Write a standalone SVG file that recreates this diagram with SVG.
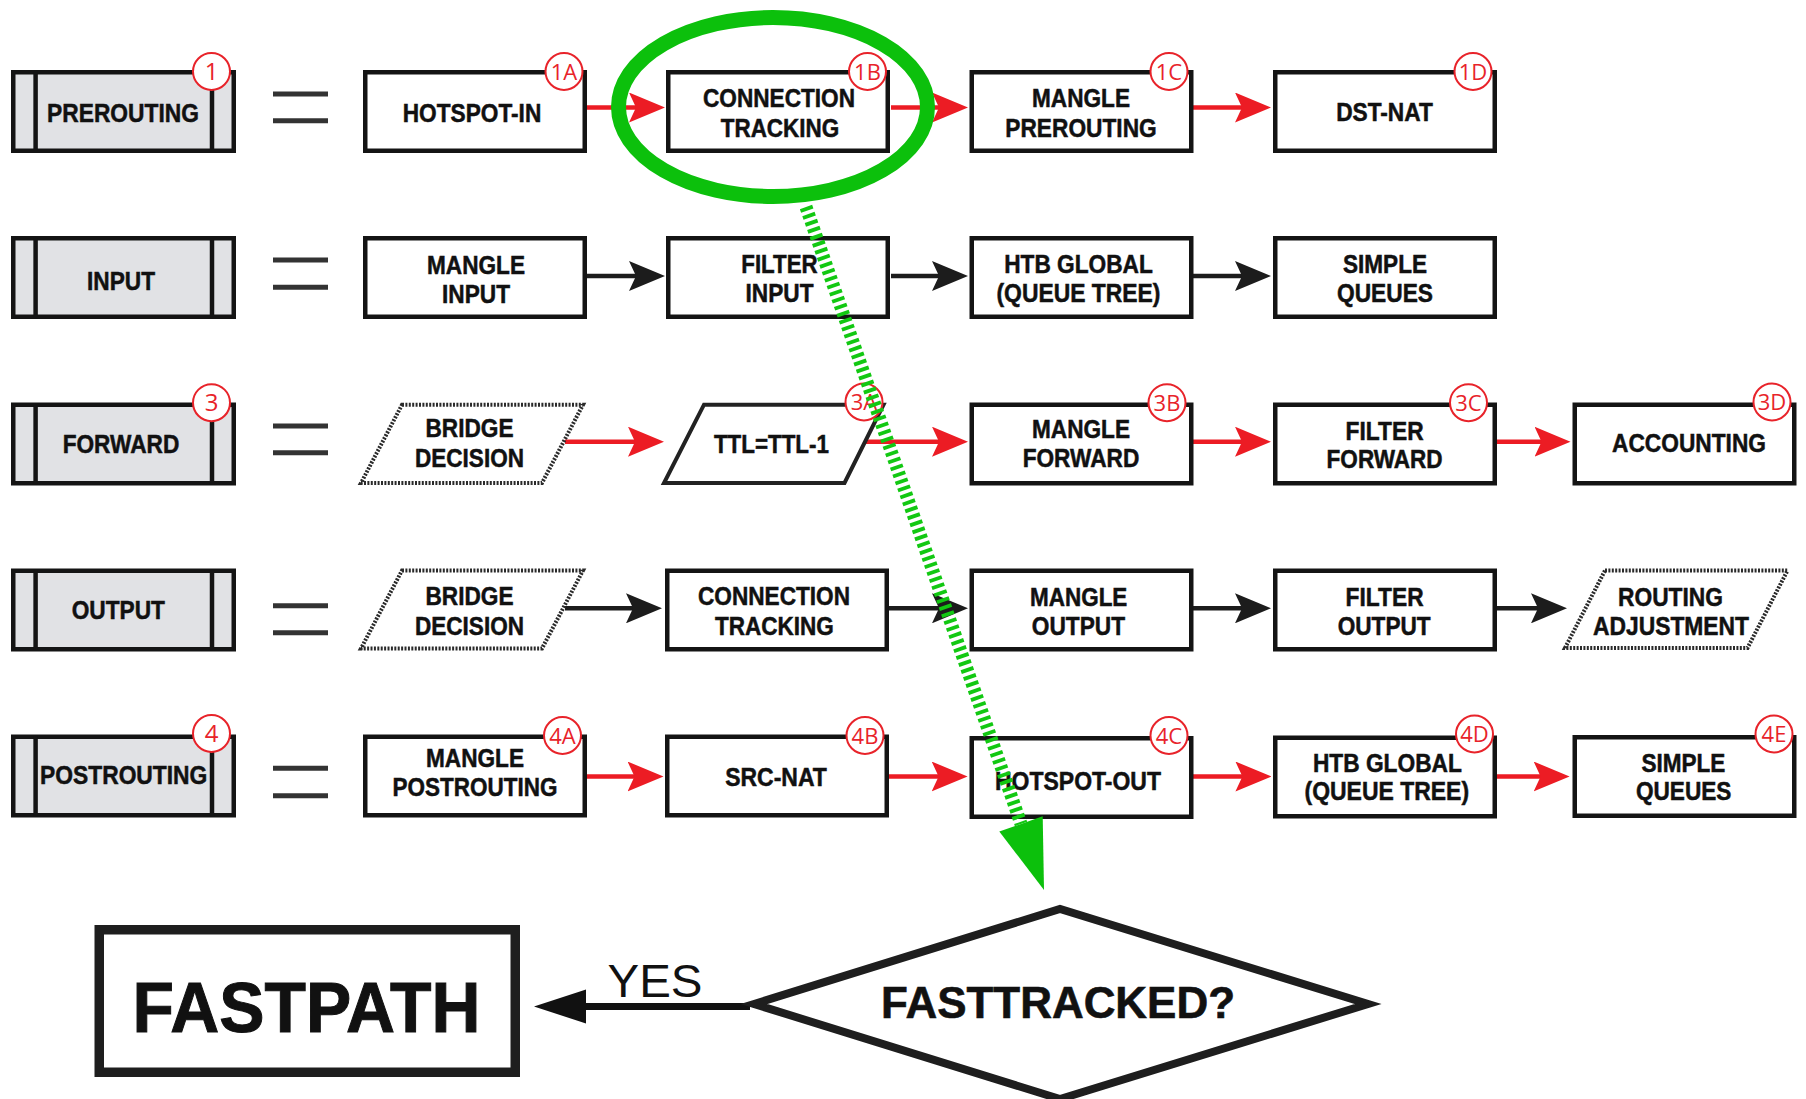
<svg xmlns="http://www.w3.org/2000/svg" width="1806" height="1099" viewBox="0 0 1806 1099">
<defs>
<style>
.box{fill:#fff;stroke:#141414;stroke-width:4.5}
.lbl{fill:#e1e2e5;stroke:#141414;stroke-width:4.5}
.bar{stroke:#141414;stroke-width:4.5}
.par{fill:#fff;stroke:#222;stroke-width:4}
.dot{fill:#fff;stroke:#2a2a2a;stroke-width:4;stroke-dasharray:2 1.4}
.t{font-family:"Liberation Sans",Arial,Helvetica,sans-serif;font-weight:bold;font-size:25.5px;fill:#111;stroke:#111;stroke-width:0.5;text-anchor:middle}
.bd circle{fill:#fff;stroke:#e8232a;stroke-width:2}
.bd text{font-family:"Open Sans","Noto Sans",sans-serif;font-size:22px;fill:#e8232a;text-anchor:middle}
.bd text.s{font-size:24px}
.eq{stroke:#333;stroke-width:5}
.red{stroke:#ec1c24;stroke-width:4.5;fill:none;marker-end:url(#ar)}
.blk{stroke:#1c1c1c;stroke-width:4.5;fill:none;marker-end:url(#ab)}
</style>
<marker id="ar" viewBox="0 0 36 30" refX="24" refY="15" markerWidth="36" markerHeight="30" markerUnits="userSpaceOnUse" orient="auto">
<path d="M0,0 L36,15 L0,30 L7,15 Z" fill="#ec1c24"/>
</marker>
<marker id="ab" viewBox="0 0 36 30" refX="24" refY="15" markerWidth="36" markerHeight="30" markerUnits="userSpaceOnUse" orient="auto">
<path d="M0,0 L36,15 L0,30 L7,15 Z" fill="#1c1c1c"/>
</marker>
</defs>
<rect width="1806" height="1099" fill="#fff"/>

<g id="connectors">
<line class="red" x1="587" y1="107.5" x2="653" y2="107.5"/>
<line class="red" x1="891" y1="107.5" x2="956" y2="107.5"/>
<line class="red" x1="1193" y1="107.5" x2="1259" y2="107.5"/>
<line class="blk" x1="587" y1="276" x2="653" y2="276"/>
<line class="blk" x1="891" y1="276" x2="956" y2="276"/>
<line class="blk" x1="1193" y1="276" x2="1259" y2="276"/>
<line class="red" x1="565" y1="441.7" x2="652" y2="441.7"/>
<line class="red" x1="866" y1="441.7" x2="956" y2="441.7"/>
<line class="red" x1="1193" y1="441.7" x2="1259" y2="441.7"/>
<line class="red" x1="1497" y1="441.7" x2="1558.5" y2="441.7"/>
<line class="blk" x1="565" y1="608.3" x2="650" y2="608.3"/>
<line class="blk" x1="889" y1="608.3" x2="956" y2="608.3"/>
<line class="blk" x1="1193" y1="608.3" x2="1259" y2="608.3"/>
<line class="blk" x1="1497" y1="608.3" x2="1555" y2="608.3"/>
<line class="red" x1="587" y1="776.5" x2="651.5" y2="776.5"/>
<line class="red" x1="889" y1="776.5" x2="955.6" y2="776.5"/>
<line class="red" x1="1193" y1="776.5" x2="1259.4" y2="776.5"/>
<line class="red" x1="1497" y1="776.5" x2="1557.6" y2="776.5"/>
<line x1="750" y1="1006.5" x2="580" y2="1006.5" stroke="#111" stroke-width="7"/>
<polygon points="534,1006.5 586,989.5 586,1023.5" fill="#111"/>
</g>

<g id="equals">
<g class="eq">
<line x1="273" y1="94" x2="328" y2="94"/><line x1="273" y1="120.7" x2="328" y2="120.7"/>
<line x1="273" y1="260" x2="328" y2="260"/><line x1="273" y1="287.3" x2="328" y2="287.3"/>
<line x1="273" y1="426" x2="328" y2="426"/><line x1="273" y1="452.7" x2="328" y2="452.7"/>
<line x1="273" y1="605.7" x2="328" y2="605.7"/><line x1="273" y1="632.7" x2="328" y2="632.7"/>
<line x1="273" y1="768.3" x2="328" y2="768.3"/><line x1="273" y1="795.7" x2="328" y2="795.7"/>
</g>
</g>

<!-- Row 1 -->
<g id="prerouting">
<rect class="lbl" x="13.25" y="72.25" width="220.5" height="78.5"/>
<line class="bar" x1="35.6" y1="72" x2="35.6" y2="151"/><line class="bar" x1="212" y1="72" x2="212" y2="151"/>
<text class="t" x="123" y="121.5" textLength="152" lengthAdjust="spacingAndGlyphs">PREROUTING</text>
<g class="bd"><circle cx="211.5" cy="71.5" r="18.5"/><text class="s" x="211.5" y="80">1</text></g>
</g>
<g id="hotspot-in">
<rect class="box" x="365.25" y="72.25" width="219.5" height="78.5"/>
<text class="t" x="472" y="121.5" textLength="138.5" lengthAdjust="spacingAndGlyphs">HOTSPOT-IN</text>
<g class="bd"><circle cx="564" cy="71.5" r="18.5"/><text x="564" y="79.5">1A</text></g>
</g>
<g id="conntrack-pre">
<rect class="box" x="668.25" y="72.25" width="219.5" height="78.5"/>
<text class="t" x="779" y="107.3" textLength="152" lengthAdjust="spacingAndGlyphs">CONNECTION</text>
<text class="t" x="780" y="136.7" textLength="118.6" lengthAdjust="spacingAndGlyphs">TRACKING</text>
<g class="bd"><circle cx="867.5" cy="71.5" r="18.5"/><text x="867.5" y="79.5">1B</text></g>
</g>
<g id="mangle-prerouting">
<rect class="box" x="971.75" y="72.25" width="219.5" height="78.5"/>
<text class="t" x="1081" y="107.3" textLength="98" lengthAdjust="spacingAndGlyphs">MANGLE</text>
<text class="t" x="1081" y="136.7" textLength="151.4" lengthAdjust="spacingAndGlyphs">PREROUTING</text>
<g class="bd"><circle cx="1169" cy="71.5" r="18.5"/><text x="1169" y="79.5">1C</text></g>
</g>
<g id="dst-nat">
<rect class="box" x="1275.25" y="72.25" width="219.5" height="78.5"/>
<text class="t" x="1384.5" y="120.5" textLength="96.7" lengthAdjust="spacingAndGlyphs">DST-NAT</text>
<g class="bd"><circle cx="1473" cy="71.5" r="18.5"/><text x="1473" y="79.5">1D</text></g>
</g>

<!-- Row 2 -->
<g id="input">
<rect class="lbl" x="13.25" y="238.25" width="220.5" height="78.5"/>
<line class="bar" x1="35.6" y1="238" x2="35.6" y2="317"/><line class="bar" x1="212" y1="238" x2="212" y2="317"/>
<text class="t" x="121" y="290" textLength="68" lengthAdjust="spacingAndGlyphs">INPUT</text>
</g>
<g id="mangle-input">
<rect class="box" x="365.25" y="238.25" width="219.5" height="78.5"/>
<text class="t" x="476" y="273.5" textLength="98" lengthAdjust="spacingAndGlyphs">MANGLE</text>
<text class="t" x="476" y="303" textLength="68" lengthAdjust="spacingAndGlyphs">INPUT</text>
</g>
<g id="filter-input">
<rect class="box" x="668.25" y="238.25" width="219.5" height="78.5"/>
<text class="t" x="779.5" y="272.5" textLength="76.5" lengthAdjust="spacingAndGlyphs">FILTER</text>
<text class="t" x="779.5" y="302" textLength="68" lengthAdjust="spacingAndGlyphs">INPUT</text>
</g>
<g id="htb-global-input">
<rect class="box" x="971.75" y="238.25" width="219.5" height="78.5"/>
<text class="t" x="1078.5" y="272.5" textLength="148.7" lengthAdjust="spacingAndGlyphs">HTB GLOBAL</text>
<text class="t" x="1078.5" y="302" textLength="164" lengthAdjust="spacingAndGlyphs">(QUEUE TREE)</text>
</g>
<g id="simple-queues-input">
<rect class="box" x="1275.25" y="238.25" width="219.5" height="78.5"/>
<text class="t" x="1385" y="272.5" textLength="84" lengthAdjust="spacingAndGlyphs">SIMPLE</text>
<text class="t" x="1385" y="302" textLength="96" lengthAdjust="spacingAndGlyphs">QUEUES</text>
</g>

<!-- Row 3 -->
<g id="forward">
<rect class="lbl" x="13.25" y="404.75" width="220.5" height="78.5"/>
<line class="bar" x1="35.6" y1="404.5" x2="35.6" y2="483.5"/><line class="bar" x1="212" y1="404.5" x2="212" y2="483.5"/>
<text class="t" x="121" y="453.3" textLength="116.7" lengthAdjust="spacingAndGlyphs">FORWARD</text>
<g class="bd"><circle cx="211.5" cy="402.7" r="18.5"/><text class="s" x="211.5" y="411.2">3</text></g>
</g>
<g id="bridge-forward">
<polygon class="dot" points="402,404.7 583,404.7 542,483 361,483"/>
<text class="t" x="469.5" y="437.3" textLength="88" lengthAdjust="spacingAndGlyphs">BRIDGE</text>
<text class="t" x="469.5" y="466.7" textLength="109" lengthAdjust="spacingAndGlyphs">DECISION</text>
</g>
<g id="ttl">
<polygon class="par" points="704,404.7 883.5,404.7 844.5,483 664,483"/>
<text class="t" x="771.4" y="453.3" textLength="115" lengthAdjust="spacingAndGlyphs">TTL=TTL-1</text>
<g class="bd"><circle cx="864" cy="402" r="18.5"/><text x="864" y="410">3A</text></g>
</g>
<g id="mangle-forward">
<rect class="box" x="971.75" y="404.75" width="219.5" height="78.5"/>
<text class="t" x="1081" y="438.3" textLength="98" lengthAdjust="spacingAndGlyphs">MANGLE</text>
<text class="t" x="1081" y="466.7" textLength="116.7" lengthAdjust="spacingAndGlyphs">FORWARD</text>
<g class="bd"><circle cx="1167" cy="402.7" r="18.5"/><text x="1167" y="410.7">3B</text></g>
</g>
<g id="filter-forward">
<rect class="box" x="1275.25" y="404.75" width="219.5" height="78.5"/>
<text class="t" x="1384.6" y="440" textLength="78" lengthAdjust="spacingAndGlyphs">FILTER</text>
<text class="t" x="1384.6" y="468.3" textLength="116" lengthAdjust="spacingAndGlyphs">FORWARD</text>
<g class="bd"><circle cx="1468.5" cy="402.7" r="18.5"/><text x="1468.5" y="410.7">3C</text></g>
</g>
<g id="accounting">
<rect class="box" x="1574.75" y="404.75" width="219.5" height="78.5"/>
<text class="t" x="1689" y="451.7" textLength="154" lengthAdjust="spacingAndGlyphs">ACCOUNTING</text>
<g class="bd"><circle cx="1772" cy="402" r="18.5"/><text x="1772" y="410">3D</text></g>
</g>

<!-- Row 4 -->
<g id="output">
<rect class="lbl" x="13.25" y="570.75" width="220.5" height="78.5"/>
<line class="bar" x1="35.6" y1="570.5" x2="35.6" y2="649.5"/><line class="bar" x1="212" y1="570.5" x2="212" y2="649.5"/>
<text class="t" x="118.3" y="619" textLength="93.3" lengthAdjust="spacingAndGlyphs">OUTPUT</text>
</g>
<g id="bridge-output">
<polygon class="dot" points="402,570.5 583,570.5 542,648.5 361,648.5"/>
<text class="t" x="469.5" y="605" textLength="88" lengthAdjust="spacingAndGlyphs">BRIDGE</text>
<text class="t" x="469.5" y="635" textLength="109" lengthAdjust="spacingAndGlyphs">DECISION</text>
</g>
<g id="conntrack-output">
<rect class="box" x="667.25" y="570.75" width="219.5" height="78.5"/>
<text class="t" x="774" y="605" textLength="152" lengthAdjust="spacingAndGlyphs">CONNECTION</text>
<text class="t" x="774.4" y="635" textLength="119" lengthAdjust="spacingAndGlyphs">TRACKING</text>
</g>
<g id="mangle-output">
<rect class="box" x="971.75" y="570.75" width="219.5" height="78.5"/>
<text class="t" x="1078.7" y="605.7" textLength="97.3" lengthAdjust="spacingAndGlyphs">MANGLE</text>
<text class="t" x="1078.4" y="635" textLength="93.3" lengthAdjust="spacingAndGlyphs">OUTPUT</text>
</g>
<g id="filter-output">
<rect class="box" x="1275.25" y="570.75" width="219.5" height="78.5"/>
<text class="t" x="1384.6" y="606" textLength="78" lengthAdjust="spacingAndGlyphs">FILTER</text>
<text class="t" x="1384.2" y="635" textLength="93" lengthAdjust="spacingAndGlyphs">OUTPUT</text>
</g>
<g id="routing-adjustment">
<polygon class="dot" points="1605,570.5 1787.5,570.5 1747.5,648 1565,648"/>
<text class="t" x="1670.5" y="606" textLength="105" lengthAdjust="spacingAndGlyphs">ROUTING</text>
<text class="t" x="1671" y="635" textLength="156" lengthAdjust="spacingAndGlyphs">ADJUSTMENT</text>
</g>

<!-- Row 5 -->
<g id="postrouting">
<rect class="lbl" x="13.25" y="736.75" width="220.5" height="78.5"/>
<line class="bar" x1="35.6" y1="736.5" x2="35.6" y2="815.5"/><line class="bar" x1="212" y1="736.5" x2="212" y2="815.5"/>
<text class="t" x="123.7" y="784.3" textLength="167.3" lengthAdjust="spacingAndGlyphs">POSTROUTING</text>
<g class="bd"><circle cx="211.5" cy="733.5" r="18.5"/><text class="s" x="211.5" y="742">4</text></g>
</g>
<g id="mangle-postrouting">
<rect class="box" x="365.25" y="736.75" width="219.5" height="78.5"/>
<text class="t" x="475" y="767" textLength="98" lengthAdjust="spacingAndGlyphs">MANGLE</text>
<text class="t" x="475" y="796" textLength="165" lengthAdjust="spacingAndGlyphs">POSTROUTING</text>
<g class="bd"><circle cx="562.5" cy="735.5" r="18.5"/><text x="562.5" y="743.5">4A</text></g>
</g>
<g id="src-nat">
<rect class="box" x="667.25" y="736.75" width="219.5" height="78.5"/>
<text class="t" x="776" y="785.5" textLength="101.6" lengthAdjust="spacingAndGlyphs">SRC-NAT</text>
<g class="bd"><circle cx="865" cy="735.5" r="18.5"/><text x="865" y="743.5">4B</text></g>
</g>
<g id="hotspot-out">
<rect class="box" x="971.75" y="738.25" width="219.5" height="78.5"/>
<text class="t" x="1078" y="790" textLength="166" lengthAdjust="spacingAndGlyphs">HOTSPOT-OUT</text>
<g class="bd"><circle cx="1169" cy="735.5" r="18.5"/><text x="1169" y="743.5">4C</text></g>
</g>
<g id="htb-global-post">
<rect class="box" x="1275.25" y="737.75" width="219.5" height="78.5"/>
<text class="t" x="1387.4" y="771.7" textLength="149" lengthAdjust="spacingAndGlyphs">HTB GLOBAL</text>
<text class="t" x="1386.8" y="800" textLength="164.5" lengthAdjust="spacingAndGlyphs">(QUEUE TREE)</text>
<g class="bd"><circle cx="1474.5" cy="734" r="18.5"/><text x="1474.5" y="742">4D</text></g>
</g>
<g id="simple-queues-post">
<rect class="box" x="1574.75" y="737.25" width="219.5" height="78.5"/>
<text class="t" x="1683.4" y="771.7" textLength="84" lengthAdjust="spacingAndGlyphs">SIMPLE</text>
<text class="t" x="1683.7" y="800" textLength="95.5" lengthAdjust="spacingAndGlyphs">QUEUES</text>
<g class="bd"><circle cx="1774" cy="734" r="18.5"/><text x="1774" y="742">4E</text></g>
</g>

<!-- Bottom -->
<g id="fastpath">
<rect x="99.25" y="929.75" width="416" height="142.5" fill="#fff" stroke="#1e1e1e" stroke-width="9.5"/>
<text x="306.5" y="1031.7" textLength="348" lengthAdjust="spacingAndGlyphs" style="font-family:'Liberation Sans',Arial,sans-serif;font-weight:bold;font-size:70px;fill:#111;stroke:#111;stroke-width:1;text-anchor:middle">FASTPATH</text>
</g>
<g id="yes-label">
<text x="655" y="997" textLength="95" lengthAdjust="spacingAndGlyphs" style="font-family:'Liberation Sans',Arial,sans-serif;font-size:47px;fill:#111;text-anchor:middle">YES</text>
</g>
<g id="fasttracked">
<polygon points="754,1004 1060,909 1368,1004 1060,1099" fill="#fff" stroke="#1e1e1e" stroke-width="8"/>
<text x="1058" y="1018.3" textLength="354" lengthAdjust="spacingAndGlyphs" style="font-family:'Liberation Sans',Arial,sans-serif;font-weight:bold;font-size:44px;fill:#111;stroke:#111;stroke-width:0.6;text-anchor:middle">FASTTRACKED?</text>
</g>

<g id="highlight">
<ellipse cx="773" cy="107" rx="154.5" ry="89.5" fill="none" stroke="#0cc00c" stroke-width="15"/>
<line x1="806" y1="207" x2="1021" y2="824" stroke="#12c812" stroke-width="13" stroke-dasharray="3.8 3.6"/>
<polygon points="1044,890 1042.7,816.3 999.3,831.5" fill="#0cc00c"/>
</g>
</svg>
